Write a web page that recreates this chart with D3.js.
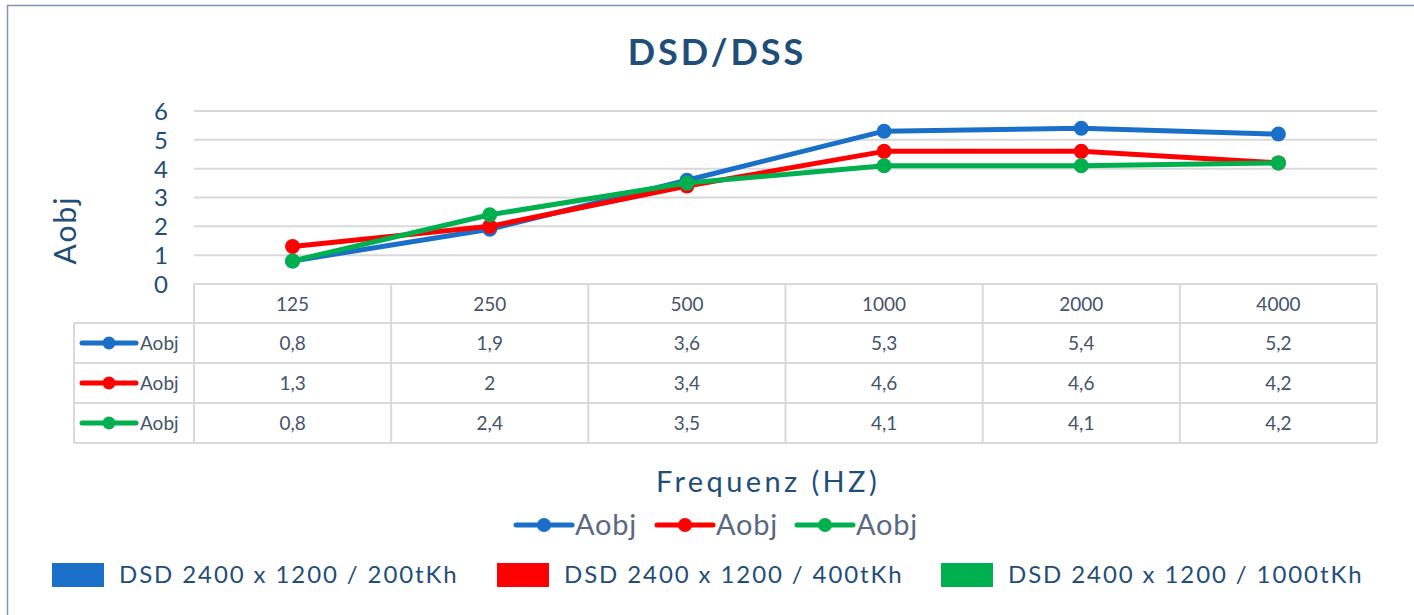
<!DOCTYPE html>
<html><head><meta charset="utf-8">
<script src="https://cdn.jsdelivr.net/npm/d3@7"></script>
<style>
html,body{margin:0;padding:0;background:#fff;}
svg{display:block;}
</style></head>
<body>
<script>
const categories = ["125","250","500","1000","2000","4000"];
const seriesNames = ["DSD 2400 x 1200 / 200tKh","DSD 2400 x 1200 / 400tKh","DSD 2400 x 1200 / 1000tKh"];
const seriesShort = ["Aobj","Aobj","Aobj"];
const s200 = [0.8,1.9,3.6,5.3,5.4,5.2];
const s400 = [1.3,2.0,3.4,4.6,4.6,4.2];
const s1000 = [0.8,2.4,3.5,4.1,4.1,4.2];
const yTicks = [0,1,2,3,4,5,6];
const colors = ["#1A70C8","#FF0000","#00B04F"];
const seriesData = [s200,s400,s1000];

(function(){
const W=1414,H=615;
const svg=d3.select("body").append("svg").attr("width",W).attr("height",H);
svg.append("rect").attr("width",W).attr("height",H).attr("fill","#fff");
// frame
svg.append("path").attr("d",`M7.5,${H} L7.5,5.5 L${W},5.5`).attr("fill","none").attr("stroke","#8497B0").attr("stroke-width",1.5);

const pLeft=194,pRight=1377,pTop=111,pBottom=284;
const x=d3.scaleBand().domain(categories).range([pLeft,pRight]);
const y=d3.scaleLinear().domain([0,6]).range([pBottom,pTop]);

const titleColor="#1F4E79";
svg.append("text").attr("x",717).attr("y",65).attr("text-anchor","middle")
 .attr("font-family","Lato, sans-serif").attr("font-weight","bold").attr("font-size",36)
 .attr("letter-spacing",3).attr("fill",titleColor).text("DSD/DSS");

// gridlines
svg.append("g").selectAll("line").data(yTicks.filter(d=>d>0)).join("line")
 .attr("x1",pLeft).attr("x2",pRight).attr("y1",d=>y(d)).attr("y2",d=>y(d))
 .attr("stroke","#D9D9D9").attr("stroke-width",2);

// y axis labels
const yAxis=d3.axisLeft(y).tickValues(yTicks).tickSize(0).tickPadding(0).tickFormat(d3.format("d"));
const ga=svg.append("g").attr("transform",`translate(161,0)`).call(yAxis);
ga.select(".domain").remove();
ga.selectAll("text").attr("font-family","Lato, sans-serif").attr("font-size",24).attr("fill",titleColor).attr("dy","0.35em").attr("text-anchor","middle");

svg.append("text").attr("transform","translate(76,230) rotate(-90)").attr("text-anchor","middle")
 .attr("font-family","Lato, sans-serif").attr("font-size",30).attr("letter-spacing",2).attr("fill",titleColor).text("Aobj");

// table
const rowH=40, tTop=pBottom, keyLeft=74;
const gridC="#D9D9D9";
const tg=svg.append("g");
tg.append("line").attr("x1",pLeft).attr("x2",pRight).attr("y1",tTop).attr("y2",tTop).attr("stroke",gridC).attr("stroke-width",2);
for(let r=1;r<=4;r++){
  tg.append("line").attr("x1",keyLeft).attr("x2",pRight).attr("y1",tTop+r*rowH-1).attr("y2",tTop+r*rowH-1).attr("stroke",gridC).attr("stroke-width",2);
}
const bounds=categories.map(c=>x(c)).concat([pRight]);
bounds.forEach(b=>{
  tg.append("line").attr("x1",b).attr("x2",b).attr("y1",tTop).attr("y2",tTop+4*rowH-1).attr("stroke",gridC).attr("stroke-width",2);
});
tg.append("line").attr("x1",keyLeft).attr("x2",keyLeft).attr("y1",tTop+rowH-1).attr("y2",tTop+4*rowH-1).attr("stroke",gridC).attr("stroke-width",2);

const tColor="#44546A";
tg.selectAll("text.hdr").data(categories).join("text").attr("class","hdr")
 .attr("x",d=>x(d)+x.bandwidth()/2).attr("y",tTop+rowH/2).attr("dy","0.35em").attr("text-anchor","middle")
 .attr("font-family","Lato, sans-serif").attr("font-size",19).attr("fill",tColor).text(d=>d);

const fmt=v=>String(v).replace(".",",");
seriesData.forEach((s,i)=>{
  const ry=tTop+(i+1)*rowH+rowH/2-1;
  tg.selectAll("text.v"+i).data(s).join("text").attr("class","v"+i)
   .attr("x",(d,j)=>x(categories[j])+x.bandwidth()/2).attr("y",ry).attr("dy","0.35em").attr("text-anchor","middle")
   .attr("font-family","Lato, sans-serif").attr("font-size",19).attr("fill",tColor).text(d=>fmt(d));
  tg.append("line").attr("x1",82).attr("x2",136).attr("y1",ry).attr("y2",ry).attr("stroke",colors[i]).attr("stroke-width",5).attr("stroke-linecap","round");
  tg.append("circle").attr("cx",109).attr("cy",ry).attr("r",6.5).attr("fill",colors[i]);
  tg.append("text").attr("x",140).attr("y",ry).attr("dy","0.35em").attr("font-family","Lato, sans-serif").attr("font-size",19).attr("fill",tColor).text(seriesShort[i]);
});

// lines
const line=d3.line().x((d,j)=>x(categories[j])+x.bandwidth()/2).y(d=>y(d));
seriesData.forEach((s,i)=>{
  svg.append("path").datum(s).attr("d",line).attr("fill","none").attr("stroke",colors[i]).attr("stroke-width",5).attr("stroke-linejoin","round");
  svg.append("g").selectAll("circle").data(s).join("circle")
   .attr("cx",(d,j)=>x(categories[j])+x.bandwidth()/2).attr("cy",d=>y(d)).attr("r",7.5).attr("fill",colors[i]);
});

// x axis title
svg.append("text").attr("x",768).attr("y",492).attr("text-anchor","middle")
 .attr("font-family","Lato, sans-serif").attr("font-size",29).attr("letter-spacing",3.4).attr("fill",titleColor).text("Frequenz (HZ)");

// line legend
const legX=[516,657,797];
seriesData.forEach((s,i)=>{
  const ly=525, lx=legX[i];
  svg.append("line").attr("x1",lx).attr("x2",lx+56).attr("y1",ly).attr("y2",ly).attr("stroke",colors[i]).attr("stroke-width",5).attr("stroke-linecap","round");
  svg.append("circle").attr("cx",lx+28).attr("cy",ly).attr("r",7).attr("fill",colors[i]);
  svg.append("text").attr("x",lx+59).attr("y",ly).attr("dy","0.35em").attr("font-family","Lato, sans-serif").attr("font-size",29).attr("letter-spacing",0.8).attr("fill","#596A80").text(seriesShort[i]);
});

// bottom legend
const sqX=[52,497,941];
seriesNames.forEach((n,i)=>{
  svg.append("rect").attr("x",sqX[i]).attr("y",563).attr("width",52).attr("height",24).attr("fill",colors[i]);
  svg.append("text").attr("x",sqX[i]+67).attr("y",575).attr("dy","0.35em").attr("font-family","Lato, sans-serif").attr("font-size",24).attr("letter-spacing",1.9).attr("fill",titleColor).text(n);
});
})();
</script>
</body></html>
